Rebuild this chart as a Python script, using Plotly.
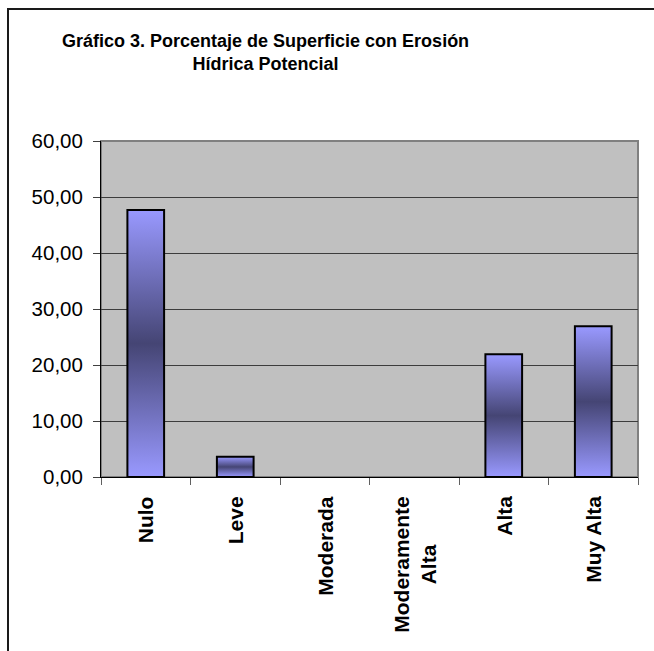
import plotly.graph_objects as go

# Erosión hídrica potencial: porcentaje de superficie por clase
categorias = ["Nulo", "Leve", "Moderada", "Moderamente<br>Alta", "Alta", "Muy Alta"]
porcentajes = [47.7, 3.6, 0.0, 0.0, 21.9, 26.9]
y_ticks = [0, 10, 20, 30, 40, 50, 60]

W, H = 654, 651
M_L, M_R, M_T, M_B = 101, 16, 141, 174
PW, PH = W - M_L - M_R, H - M_T - M_B


def px_x(px):
    return (px - M_L) / PW


def px_y(py):
    return 1 - (py - M_T) / PH


BAR_W = 0.41
fig = go.Figure()

# Each bar is a filled polygon so it can carry a vertical gradient
for i, v in enumerate(porcentajes):
    if v <= 0:
        continue
    x0, x1 = i - BAR_W / 2, i + BAR_W / 2
    fig.add_trace(go.Scatter(
        x=[x0, x1, x1, x0, x0],
        y=[0, 0, v, v, 0],
        mode="lines",
        fill="toself",
        fillgradient=dict(
            type="vertical",
            colorscale=[[0, "#9999FF"], [0.5, "#454574"], [1, "#9999FF"]],
        ),
        line=dict(color="#000000", width=2),
        hoverinfo="skip",
        showlegend=False,
    ))

font_family = "Liberation Sans, Arial, sans-serif"

annotations = [
    dict(
        x=265, xref="paper", y=px_y(52), yref="paper",
        text="<b>Gráfico 3. Porcentaje de Superficie con Erosión<br>Hídrica Potencial</b>",
        showarrow=False, xanchor="center", yanchor="middle", align="center",
        font=dict(family=font_family, size=18, color="#000000"),
    )
]
annotations[0]["x"] = px_x(265)

for i, c in enumerate(categorias):
    annotations.append(dict(
        x=i, xref="x", y=px_y(494), yref="paper",
        text="<b>" + c + "</b>", showarrow=False, textangle=-90,
        xanchor="center", yanchor="top", align="center",
        font=dict(family=font_family, size=21, color="#000000"),
    ))

shapes = [
    # plot area border
    dict(type="rect", xref="paper", yref="paper", x0=0, x1=1, y0=0, y1=1,
         line=dict(color="#808080", width=2), layer="below"),
    # chart frame
    dict(type="rect", xref="paper", yref="paper",
         x0=px_x(8), x1=px_x(700), y0=px_y(700), y1=px_y(9),
         line=dict(color="#1a1a1a", width=2), fillcolor="rgba(0,0,0,0)"),
]

fig.update_layout(
    width=W, height=H,
    margin=dict(l=M_L, r=M_R, t=M_T, b=M_B),
    paper_bgcolor="#FFFFFF",
    plot_bgcolor="#C0C0C0",
    separators=",.",
    font=dict(family=font_family, size=20, color="#000000"),
    xaxis=dict(
        range=[-0.5, len(categorias) - 0.5],
        tickvals=[k - 0.5 for k in range(len(categorias) + 1)],
        showticklabels=False,
        ticks="outside", ticklen=7, tickcolor="#606060", tickwidth=1,
        showgrid=False, zeroline=False,
        showline=True, linecolor="#000000", linewidth=1,
        fixedrange=True,
    ),
    yaxis=dict(
        range=[0, 60],
        tickvals=y_ticks,
        tickformat=".2f",
        ticks="outside", ticklen=7, tickcolor="#404040", tickwidth=1,
        ticklabelstandoff=6,
        showgrid=True, gridcolor="#3c3c3c", gridwidth=1,
        zeroline=False,
        showline=True, linecolor="#000000", linewidth=1,
        tickfont=dict(family=font_family, size=20.5, color="#000000"),
        fixedrange=True,
    ),
    annotations=annotations,
    shapes=shapes,
)

fig.write_html("out.html")
